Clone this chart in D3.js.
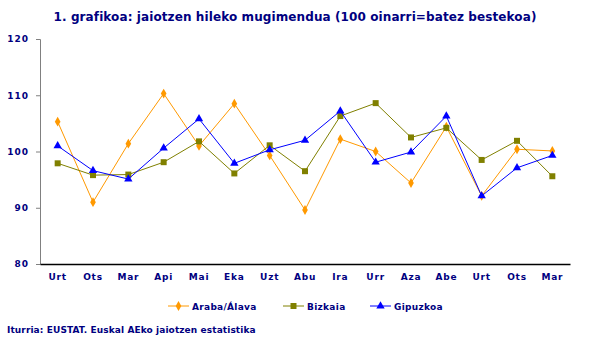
<!DOCTYPE html>
<html><head><meta charset="utf-8">
<script src="https://cdn.jsdelivr.net/npm/d3@7"></script>
<style>body{margin:0;background:#fff}svg{display:block}text{font-family:"DejaVu Sans",Verdana,sans-serif;font-weight:bold;fill:#000080}</style>
</head><body><svg id="c" width="590" height="346"></svg>
<script>
const months = ["Urt","Ots","Mar","Api","Mai","Eka","Uzt","Abu","Ira","Urr","Aza","Abe","Urt","Ots","Mar"];
const araba = [105.3,91.0,101.4,110.3,101.0,108.5,99.3,89.6,102.2,100.0,94.4,104.4,92.1,100.4,100.1];
const bizkaia = [97.9,95.8,95.9,98.1,101.8,96.1,101.1,96.5,106.3,108.6,102.5,104.2,98.5,101.9,95.6];
const gipuzkoa = [101.0,96.6,95.1,100.6,105.8,97.9,100.3,102.0,107.2,98.1,99.9,106.3,92.1,97.1,99.3];
const yTicks = [80,90,100,110,120];
const seriesNames = ["Araba/Álava","Bizkaia","Gipuzkoa"];
const title = "1. grafikoa: jaiotzen hileko mugimendua (100 oinarri=batez bestekoa)";
const source = "Iturria: EUSTAT. Euskal AEko jaiotzen estatistika";

const series = [
  {name: seriesNames[0], values: araba, color: "#FF9900", sym: "diamond"},
  {name: seriesNames[1], values: bizkaia, color: "#808000", sym: "square"},
  {name: seriesNames[2], values: gipuzkoa, color: "#0000FF", sym: "triangle"}
];

const svg = d3.select("#c");
const L = 40, R = 570, T = 39, B = 264;
const x = d3.scaleBand().domain(d3.range(months.length)).range([L, R]);
const y = d3.scaleLinear().domain([80,120]).range([B, T]);

svg.append("text").attr("x", 295).attr("y", 21).attr("text-anchor","middle")
  .style("font-size","12px").style("letter-spacing","0.1px").text(title);

// y axis
const ya = svg.append("g").attr("transform",`translate(${L},0)`)
  .call(d3.axisLeft(y).tickValues(yTicks).tickSize(4).tickPadding(7).tickFormat(d3.format("d")));
ya.select(".domain").attr("stroke","#808080");
ya.selectAll(".tick line").attr("stroke","#808080");
ya.selectAll(".tick text").style("font-size","9px").style("letter-spacing","1px").attr("fill","#000080").attr("font-family",null);

// x axis
const xa = svg.append("g").attr("transform",`translate(0,${B})`)
  .call(d3.axisBottom(x).tickSize(0).tickPadding(10).tickFormat(i => months[i]));
xa.select(".domain").attr("stroke","#000").attr("stroke-width",1.5);
xa.selectAll(".tick text").style("font-size","9px").style("letter-spacing","0.8px").attr("fill","#000080").attr("font-family",null);

const cx = i => x(i) + x.bandwidth()/2;
const symMap = {diamond: d3.symbolDiamond, square: d3.symbolSquare, triangle: d3.symbolTriangle};
const symSize = {diamond: 28, square: 36, triangle: 30};

series.forEach(s => {
  svg.append("path").datum(s.values)
    .attr("fill","none").attr("stroke", s.color).attr("stroke-width",1)
    .attr("d", d3.line().x((d,i)=>cx(i)).y(d=>y(d)));
  svg.append("g").selectAll("path").data(s.values).join("path")
    .attr("transform",(d,i)=>`translate(${cx(i)},${y(d)})`)
    .attr("fill", s.color)
    .attr("d", d3.symbol(symMap[s.sym], symSize[s.sym]));
});

// legend
const legX = [168, 283, 370];
series.forEach((s,k) => {
  const g = svg.append("g").attr("transform",`translate(${legX[k]},306)`);
  g.append("line").attr("x1",0).attr("x2",21).attr("stroke",s.color).attr("stroke-width",1);
  g.append("path").attr("transform","translate(10.5,0)").attr("fill",s.color)
    .attr("d", d3.symbol(symMap[s.sym], symSize[s.sym]));
  g.append("text").attr("x",24).attr("y",3.5).style("font-size","9px").style("letter-spacing","0.3px").text(s.name);
});

svg.append("text").attr("x",7).attr("y",333).style("font-size","9px").style("letter-spacing","0.1px").text(source);
</script></body></html>
